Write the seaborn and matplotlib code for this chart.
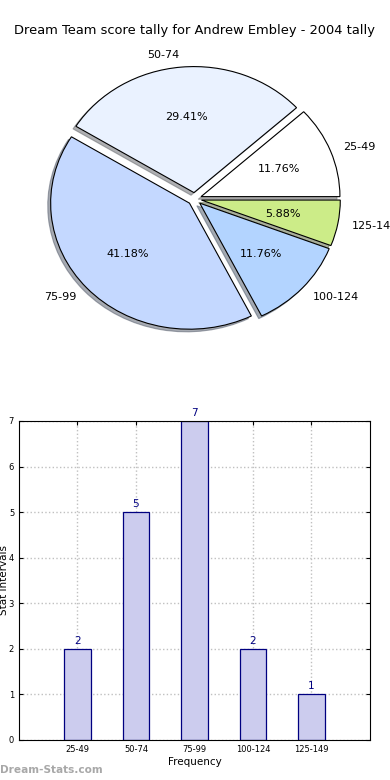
import matplotlib
matplotlib.use("Agg")
import matplotlib.pyplot as plt
import seaborn as sns

# score ranges and how many games fell in each
ranges = ["25-49", "50-74", "75-99", "100-124", "125-149"]
counts = [2, 5, 7, 2, 1]
pie_colors = ["#ffffff", "#eaf2ff", "#c4d8ff", "#b3d4ff", "#ccec88"]

sns.set_style("white")
plt.rcParams['font.family'] = ['DejaVu Sans']
plt.rcParams['text.color'] = 'black'
plt.rcParams['axes.labelcolor'] = 'black'
plt.rcParams['xtick.color'] = 'black'
plt.rcParams['ytick.color'] = 'black'

fig = plt.figure(figsize=(3.9, 7.8), dpi=100)

# pie on top
ax1 = fig.add_axes([0.054, 0.543, 0.89, 0.404])
wedges, texts, autotexts = ax1.pie(
    counts, labels=ranges, colors=pie_colors, autopct="%1.2f%%",
    explode=[0.05] * len(counts), shadow={"ox": -0.015, "oy": -0.015, "shade": 0.6},
    wedgeprops={"edgecolor": "black", "linewidth": 0.8},
    textprops={"fontsize": 8, "color": "black"})
ax1.set_aspect("auto")
fig.text(0.5, 0.961, "Dream Team score tally for Andrew Embley - 2004 tally",
         ha="center", va="center", fontsize=9.4)

# bar chart below
ax2 = fig.add_axes([0.0487, 0.0513, 0.9, 0.409])
sns.barplot(x=ranges, y=counts, ax=ax2, color="#ccccee", saturation=1,
            edgecolor="navy", linewidth=0.9, width=0.45)
ax2.set_xlim(-1, 5)
ax2.set_ylim(0, 7)
ax2.grid(True, linestyle=":", color="#c0c0c0", linewidth=1)
ax2.set_axisbelow(True)
for i, c in enumerate(counts):
    ax2.text(i, c + 0.07, str(c), ha="center", va="bottom",
             color="navy", fontsize=7.5)
ax2.tick_params(axis="both", direction="in", length=3, labelsize=6,
                top=True, right=True, bottom=True, left=True)
for s in ax2.spines.values():
    s.set_color("black")
    s.set_linewidth(0.8)
ax2.set_xlabel("Frequency", fontsize=7.5, labelpad=2)
ax2.set_ylabel("Stat intervals", fontsize=7.5, labelpad=0)

fig.text(0.0, 0.006, "Dream-Stats.com", color="#a8a8a8", fontsize=7.6,
         fontweight="bold", ha="left", va="bottom")

fig.savefig("out.png", dpi=100)
